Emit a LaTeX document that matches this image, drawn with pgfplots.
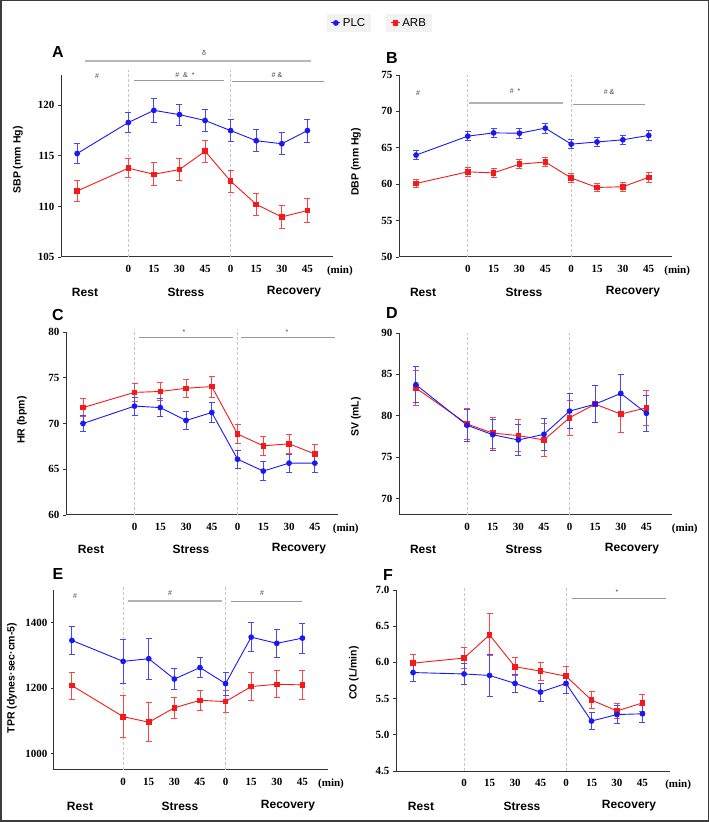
\documentclass[border=0pt]{standalone}
\usepackage{fontspec}
\setmainfont{Liberation Serif}
\newfontfamily\arial{Liberation Sans}
\usepackage{pgfplots}
\pgfplotsset{compat=1.18}
\usepackage{pgfplotstable}

\definecolor{plc}{RGB}{25,25,245}
\definecolor{arb}{RGB}{245,25,25}
\definecolor{frame}{RGB}{60,60,60}

\pgfplotstableread{
x y e
0 115.23 1.0
2 118.3 1.0
3 119.5 1.15
4 119.08 1.05
5 118.5 1.1
6 117.5 1.1
7 116.5 1.1
8 116.2 1.07
9 117.5 1.15
}\Aplc
\pgfplotstableread{
x y e
0 111.53 1.0
2 113.78 0.95
3 113.18 1.15
4 113.65 1.05
5 115.46 1.07
6 112.5 1.1
7 110.2 1.05
8 108.96 1.1
9 109.6 1.17
}\Aarb
\pgfplotstableread{
x y e
0 64.0 0.6
2 66.6 0.65
3 67.05 0.65
4 67.0 0.65
5 67.7 0.7
6 65.5 0.65
7 65.8 0.6
8 66.1 0.65
9 66.7 0.7
}\Bplc
\pgfplotstableread{
x y e
0 60.1 0.55
2 61.7 0.6
3 61.55 0.6
4 62.75 0.6
5 63.05 0.65
6 60.85 0.6
7 59.55 0.6
8 59.65 0.6
9 60.95 0.65
}\Barb
\pgfplotstableread{
x y e
0 70.0 0.9
2 71.9 1.0
3 71.74 1.0
4 70.33 1.0
5 71.2 1.1
6 66.1 1.0
7 64.8 1.0
8 65.67 1.0
9 65.67 1.0
}\Cplc
\pgfplotstableread{
x y e
0 71.74 0.95
2 73.4 1.0
3 73.5 1.0
4 73.85 1.0
5 74.04 1.15
6 68.85 1.0
7 67.56 1.0
8 67.78 1.0
9 66.67 1.0
}\Carb
\pgfplotstableread{
x y e
0 83.75 2.15
2 78.85 1.9
3 77.7 1.9
4 77.07 1.9
5 77.75 1.95
6 80.56 2.1
7 81.4 2.2
8 82.7 2.25
9 80.3 2.2
}\Dplc
\pgfplotstableread{
x y e
0 83.35 2.1
2 79.0 1.9
3 77.9 1.9
4 77.6 1.9
5 77.07 1.95
6 79.76 2.1
7 81.4 2.2
8 80.2 2.2
9 80.96 2.15
}\Darb
\pgfplotstableread{
x y e
0 1346 42
2 1282 67
3 1290 62
4 1228 32
5 1263 31
6 1214 35
7 1356 45
8 1337 42
9 1353 46
}\Eplc
\pgfplotstableread{
x y e
0 1208 41
2 1113 64
3 1096 59
4 1140 32
5 1163 30
6 1159 34
7 1205 44
8 1212 41
9 1210 45
}\Earb
\pgfplotstableread{
x y e
0 5.86 0.125
2 5.84 0.14
3 5.82 0.29
4 5.71 0.13
5 5.59 0.125
6 5.71 0.14
7 5.19 0.12
8 5.28 0.12
9 5.29 0.12
}\Fplc
\pgfplotstableread{
x y e
0 5.99 0.125
2 6.06 0.14
3 6.38 0.29
4 5.94 0.125
5 5.88 0.125
6 5.81 0.13
7 5.48 0.12
8 5.33 0.10
9 5.44 0.12
}\Farb

\pgfplotsset{
  panel/.style={
    scale only axis,
    anchor=south west,
    axis x line=bottom, axis y line=left,
    axis line style={-, line width=1pt, black!80},
    xtick={2,3,4,5,6,7,8,9},
    xticklabels={0,15,30,45,0,15,30,45},
    x tick style={draw=none},
    y tick style={black!80, line width=0.8pt},
    tick align=outside, major tick length=3pt,
    ticklabel style={font=\bfseries\fontsize{11}{11}\selectfont},
    xticklabel style={yshift=-2pt},
    /pgf/number format/assume math mode=true,
    /pgf/number format/1000 sep={},
    clip=false,
    legend style={draw=none, fill=black!5, font=\arial\fontsize{11.5}{12}\selectfont,
      inner xsep=4pt, inner ysep=2pt, anchor=center},
    legend image code/.code={
      \draw[mark repeat=2,mark phase=2,##1] plot coordinates {(0cm,0cm) (0.16cm,0cm) (0.32cm,0cm)};},
  },
  plcs/.style={plc, line width=0.9pt, mark=*, mark size=2.4pt, mark options={solid},
    error bars/.cd, y dir=both, y explicit,
    error bar style={plc!80, line width=0.9pt},
    error mark options={rotate=90, mark size=3pt, plc!80, line width=0.9pt}},
  arbs/.style={arb, line width=0.9pt, mark=square*, mark size=2.3pt, mark options={solid},
    error bars/.cd, y dir=both, y explicit,
    error bar style={arb!80, line width=0.9pt},
    error mark options={rotate=90, mark size=3pt, arb!80, line width=0.9pt}},
}

\newcommand\phaseline[3]{\draw[gray!45, densely dashed, line width=0.8pt] (axis cs:#1,#2) -- (axis cs:#1,#3);}
\newcommand\minlabel[2]{\node[anchor=north, yshift=-5.5pt, inner sep=0.333em, font=\bfseries\fontsize{11}{11}\selectfont] at (axis cs:#1,#2) {(min)};}

\begin{document}
\begin{tikzpicture}
\path[use as bounding box] (0,0) rectangle (709pt,822pt);

% ---------- A ----------
\begin{axis}[panel, at={(61pt,565pt)}, width=272pt, height=182pt,
  xmin=-0.63, xmax=10, ymin=105, ymax=123, ytick={105,110,115,120},
  legend style={at={(1.059,1.286)}}]
\phaseline{2}{105}{123.5}\phaseline{6}{105}{123.5}
\minlabel{10.27}{105}
\addplot+[forget plot, arbs] table[x=x, y=y, y error=e] {\Aarb};
\addplot+[plcs] table[x=x, y=y, y error=e] {\Aplc};
\addlegendentry{PLC}
\end{axis}

% ---------- B ----------
\begin{axis}[panel, at={(399pt,565pt)}, width=273pt, height=182pt,
  xmin=-0.66, xmax=9.9, ymin=50, ymax=75, ytick={50,55,...,75},
  legend style={at={(0.037,1.286)}}]
\phaseline{2}{50}{75}\phaseline{6}{50}{75}
\minlabel{10.1}{50}
\addplot+[arbs] table[x=x, y=y, y error=e] {\Barb};
\addlegendentry{ARB}
\addplot+[forget plot, plcs] table[x=x, y=y, y error=e] {\Bplc};
\end{axis}

% ---------- C ----------
\begin{axis}[panel, at={(66pt,307pt)}, width=272pt, height=183pt,
  xmin=-0.66, xmax=9.9, ymin=60, ymax=80, ytick={60,65,...,80}]
\phaseline{2}{60}{80.3}\phaseline{6}{60}{80.3}
\minlabel{10.2}{60}
\addplot+[arbs] table[x=x, y=y, y error=e] {\Carb};
\addplot+[plcs] table[x=x, y=y, y error=e] {\Cplc};
\end{axis}

% ---------- D ----------
\begin{axis}[panel, at={(399pt,307pt)}, width=273pt, height=182pt,
  xmin=-0.66, xmax=10, ymin=68, ymax=90, ytick={70,75,...,90}]
\phaseline{2}{68}{90}\phaseline{6}{68}{90}
\minlabel{10.5}{68}
\addplot+[arbs] table[x=x, y=y, y error=e] {\Darb};
\addplot+[plcs] table[x=x, y=y, y error=e] {\Dplc};
\end{axis}

% ---------- E ----------
\begin{axis}[panel, at={(54pt,52pt)}, width=274pt, height=180pt,
  xmin=-0.7, xmax=10, ymin=950, ymax=1500, ytick={1000,1200,1400}]
\phaseline{2}{950}{1512}\phaseline{6}{950}{1512}
\minlabel{10.12}{950}
\addplot+[arbs] table[x=x, y=y, y error=e] {\Earb};
\addplot+[plcs] table[x=x, y=y, y error=e] {\Eplc};
\end{axis}

% ---------- F ----------
\begin{axis}[panel, at={(396pt,51pt)}, width=274pt, height=181pt,
  xmin=-0.67, xmax=10.08, ymin=4.5, ymax=7.0, ytick={4.5,5,...,7},
  yticklabel style={/pgf/number format/.cd, fixed, fixed zerofill, precision=1}]
\phaseline{2}{4.5}{7.04}\phaseline{6}{4.5}{7.04}
\minlabel{10.4}{4.5}
\addplot+[arbs] table[x=x, y=y, y error=e] {\Farb};
\addplot+[plcs] table[x=x, y=y, y error=e] {\Fplc};
\end{axis}

% ---------- annotations in pixel coordinates ----------
\begin{scope}[x=1pt, y=-1pt, yshift=822pt]
  \draw[frame, line width=1.5pt] (0.75,0.75) rectangle (708.25,821.25);
  \tikzset{let/.style={font=\arial\bfseries\fontsize{16}{16}\selectfont}}
  \node[let] at (58,52) {A};
  \node[let] at (392,58) {B};
  \node[let] at (58,315) {C};
  \node[let] at (392,313) {D};
  \node[let] at (58,574) {E};
  \node[let] at (388,575) {F};
  \tikzset{yl/.style={rotate=90, font=\arial\bfseries\fontsize{10.5}{11}\selectfont}}
  \node[yl] at (18,160) {SBP (mm Hg)};
  \node[yl] at (356,162) {DBP (mm Hg)};
  \node[yl] at (22,420) {HR (bpm)};
  \node[yl] at (356,417) {SV (mL)};
  \node[yl] at (12,678) {TPR (dynes·sec·cm-5)};
  \node[yl] at (354,673) {CO (L/min)};
  \tikzset{ph/.style={font=\arial\bfseries\fontsize{12}{12}\selectfont}}
  \foreach \a/\b/\c/\yy in {85/186/294/292, 423/524/633/292, 91/191/299/549, 423/524/632/549, 80/180/288/806, 421/522/629/806}{
    \node[ph] at (\a,\yy) {Rest};
    \node[ph] at (\b,\yy) {Stress};
    \node[ph] at (\c,\yy) {Recovery};
  }
  \tikzset{sg/.style={font=\arial\fontsize{7}{7}\selectfont, text=black!75}, sl/.style={gray!80, line width=0.7pt}}
  \draw[gray!55, line width=1.3pt] (85,61) -- (311,61);
  \node[sg] at (204,53) {δ};
  \node[sg] at (97,76) {\#};
  \draw[sl] (134,80) -- (224,80); \node[sg] at (185,75) {\#\ \ \&\ \ *};
  \draw[sl] (232,81) -- (324,81); \node[sg] at (277,75) {\# \&};
  \node[sg] at (418,93) {\#};
  \draw[gray!60, line width=1.1pt] (469,103) -- (563,103); \node[sg] at (515,91) {\#\ \ *};
  \draw[sl] (573,104) -- (645,104); \node[sg] at (609,92) {\# \&};
  \draw[sl] (139,337) -- (233,337); \node[sg] at (184,332) {*};
  \draw[sl] (241,337) -- (335,337); \node[sg] at (287,332) {*};
  \node[sg] at (75,596) {\#};
  \draw[gray!60, line width=1.1pt] (128,601) -- (222,601); \node[sg] at (170,593) {\#};
  \draw[sl] (231,601) -- (302,601); \node[sg] at (262,593) {\#};
  \draw[sl] (572,598) -- (666,598); \node[sg] at (617,592) {*};
\end{scope}
\end{tikzpicture}
\end{document}
